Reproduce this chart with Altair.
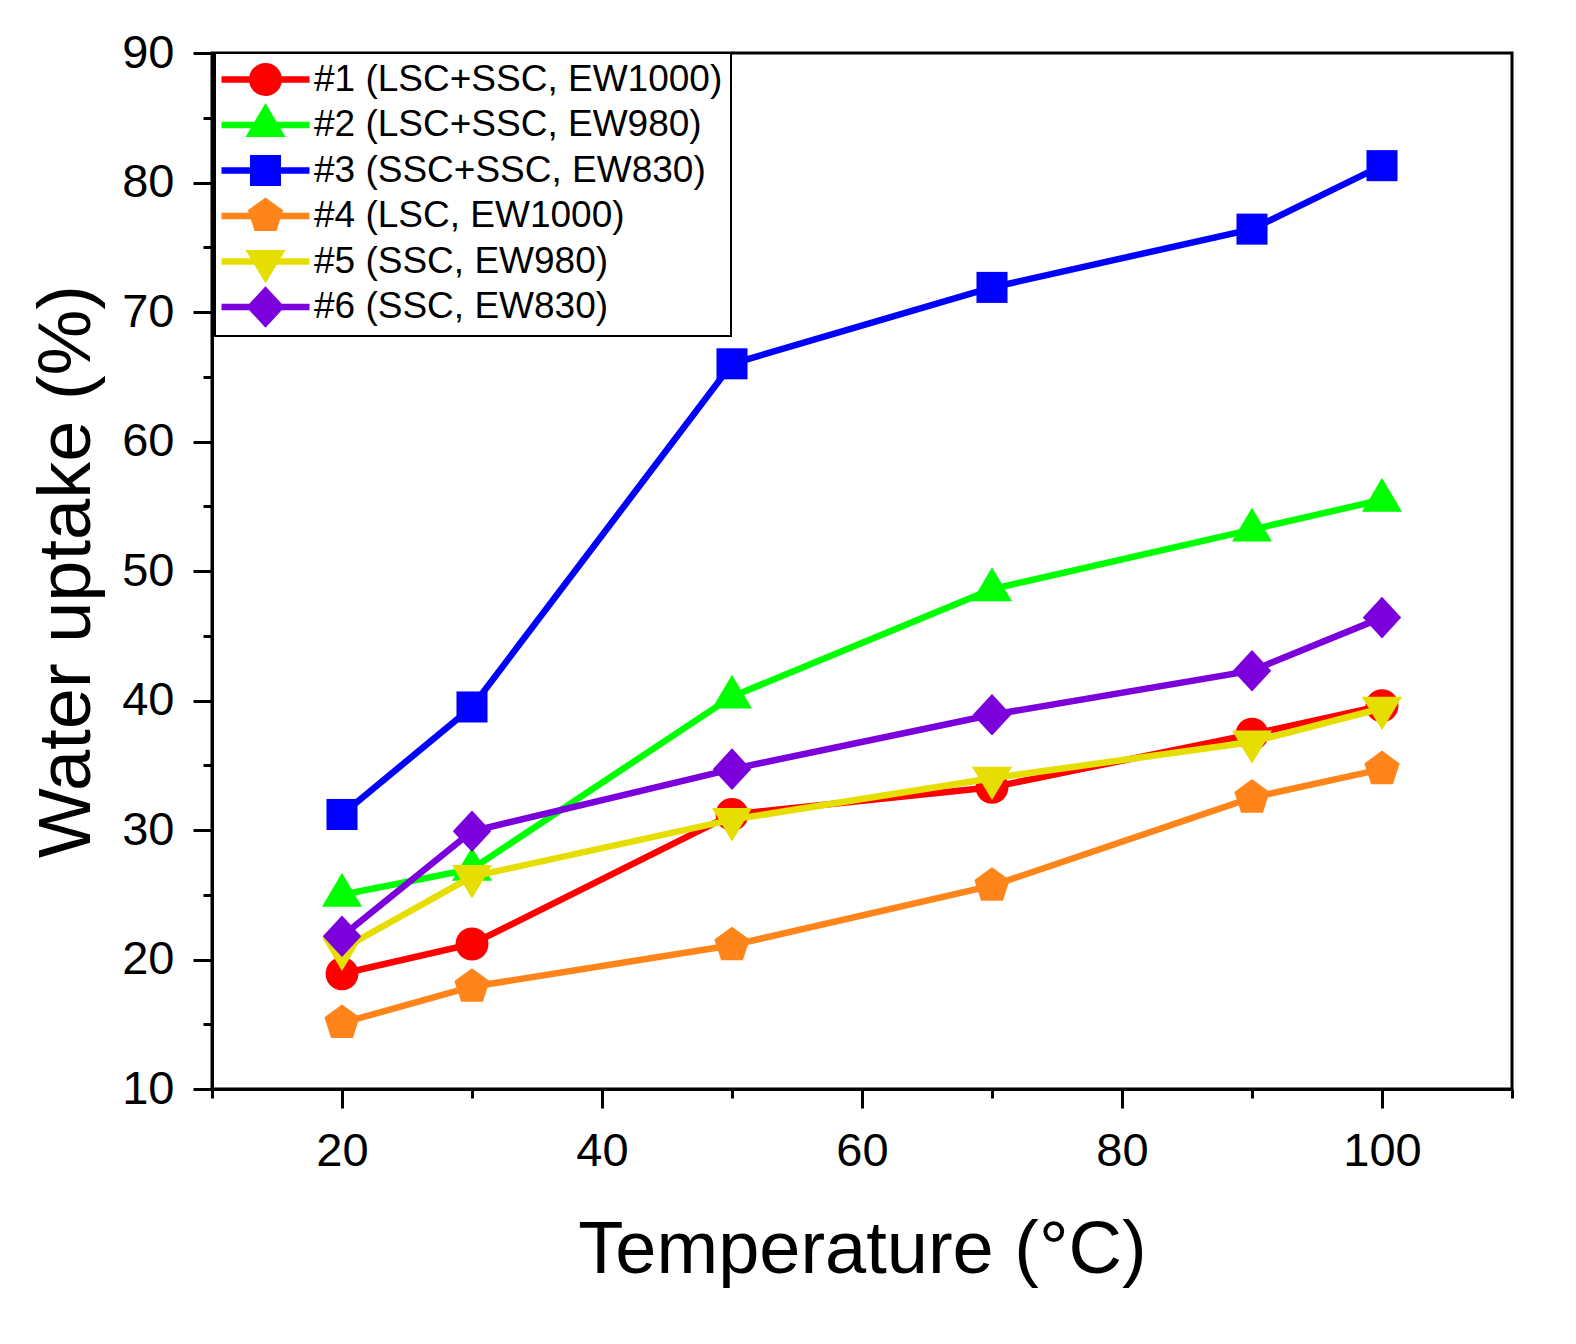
import altair as alt
import pandas as pd

# ------------------------------------------------------------------ data
TEMPS = [20, 30, 50, 70, 90, 100]

SERIES = [
    "#1 (LSC+SSC, EW1000)",
    "#2 (LSC+SSC, EW980)",
    "#3 (SSC+SSC, EW830)",
    "#4 (LSC, EW1000)",
    "#5 (SSC, EW980)",
    "#6 (SSC, EW830)",
]

UPTAKE_1 = [18.9, 21.2, 31.2, 33.3, 37.4, 39.6]
UPTAKE_2 = [25.0, 27.0, 40.3, 48.6, 53.2, 55.5]
UPTAKE_3 = [31.2, 39.5, 66.0, 71.9, 76.4, 81.3]
UPTAKE_4 = [15.1, 17.9, 21.1, 25.7, 32.5, 34.7]
UPTAKE_5 = [20.8, 26.4, 30.8, 34.0, 36.8, 39.4]
UPTAKE_6 = [21.8, 29.9, 34.7, 38.9, 42.3, 46.4]

X_TICKS = list(range(10, 111, 10))
Y_TICKS = list(range(10, 91, 5))

# ---------------------------------------------------------------- styling
FONT = "Liberation Sans"
COLORS = ["#ff0000", "#00ff00", "#0000ff", "#ff851b", "#e6de00", "#7b00dc"]

# marker outlines in unit coords (-1..1 ~ marker box), all drawn clockwise
MARKERS = [
    "M-1.03,0A1.03,1.03 0 1,1 1.03,0A1.03,1.03 0 1,1 -1.03,0Z",      # circle
    "M0,-1.37L1.25,0.75L-1.25,0.75Z",                                  # triangle up
    "M-0.97,-0.97H0.97V0.97H-0.97Z",                                   # square
    "M0,-1.16L1.103,-0.358L0.682,0.938L-0.682,0.938L-1.103,-0.358Z",   # pentagon
    "M-1.25,-0.72L1.25,-0.72L0,1.37Z",                                 # triangle down
    "M0,-1.3L1.2,0L0,1.3L-1.2,0Z",                                     # diamond
]
LEGEND_LINE = "M-2.75,-0.2H2.75V0.2H-2.75Z"
LEGEND_SYMBOLS = [LEGEND_LINE + m for m in MARKERS]

rows = []
for name, vals in zip(SERIES, [UPTAKE_1, UPTAKE_2, UPTAKE_3,
                               UPTAKE_4, UPTAKE_5, UPTAKE_6]):
    for t, v in zip(TEMPS, vals):
        rows.append({"series": name, "temp": t, "uptake": v})
df = pd.DataFrame(rows)

x_enc = alt.X(
    "temp:Q",
    scale=alt.Scale(domain=[10, 110], nice=False, zero=False),
    axis=alt.Axis(
        values=X_TICKS,
        labelExpr="datum.value % 20 == 0 ? datum.label : ''",
        tickSize={"condition": {"test": "datum.value % 20 == 0", "value": 19}, "value": 9},
        tickWidth=3, tickColor="black", domainWidth=3, domainColor="black",
        labelFont=FONT, labelFontSize=47, labelColor="black", labelPadding=20,
        labelFlush=False, labelOverlap=False, grid=False,
        title="Temperature (°C)", titleFont=FONT, titleFontSize=74,
        titleFontWeight="normal", titleColor="black", titlePadding=40,
    ),
)
y_enc = alt.Y(
    "uptake:Q",
    scale=alt.Scale(domain=[10, 90], nice=False, zero=False),
    axis=alt.Axis(
        values=Y_TICKS,
        labelExpr="datum.value % 10 == 0 ? datum.label : ''",
        tickSize={"condition": {"test": "datum.value % 10 == 0", "value": 19}, "value": 9},
        tickWidth=3, tickColor="black", domainWidth=3, domainColor="black",
        labelFont=FONT, labelFontSize=47, labelColor="black", labelPadding=19,
        labelFlush=False, labelOverlap=False, grid=False,
        title="Water uptake (%)", titleFont=FONT, titleFontSize=74,
        titleFontWeight="normal", titleColor="black", titlePadding=16,
    ),
)

base = alt.Chart(df)
layers = []
for name, color, marker in zip(SERIES, COLORS, MARKERS):
    one = base.transform_filter(alt.datum.series == name)
    layers.append(one.mark_line(color=color, strokeWidth=6.5).encode(x=x_enc, y=y_enc))
    layers.append(one.mark_point(
        shape=marker, size=1024, filled=True, opacity=1, color=color, strokeWidth=0,
    ).encode(x=x_enc, y=y_enc))

# legend only: no visible marks, entries come from the explicit scale domains
legend = alt.Legend(
    title=None, orient="none", legendX=3, legendY=0,
    symbolSize=1024, symbolStrokeWidth=0, symbolOpacity=1,
    symbolOffset=24, labelOffset=30, rowPadding=0.5, padding=8, gridAlign="all",
    labelFont=FONT, labelFontSize=37, labelColor="black", labelLimit=800,
    strokeColor="black", fillColor="white",
)
legend_layer = base.transform_filter("false").mark_point(
    filled=True, opacity=1, size=1024, strokeWidth=0,
).encode(
    x=x_enc, y=y_enc,
    color=alt.Color("series:N", scale=alt.Scale(domain=SERIES, range=COLORS), legend=legend),
    shape=alt.Shape("series:N", scale=alt.Scale(domain=SERIES, range=LEGEND_SYMBOLS), legend=legend),
)

chart = alt.layer(*layers, legend_layer).properties(
    width=1300, height=1036,
    autosize=alt.AutoSizeParams(type="none"),
    padding={"left": 204, "top": 45, "right": 40, "bottom": 230},
    background="white",
).configure_view(
    stroke="black", strokeWidth=3,
).configure_legend(
    strokeWidth=2,
)

chart.save("out.html", embed_options={"renderer": "svg", "actions": False})
